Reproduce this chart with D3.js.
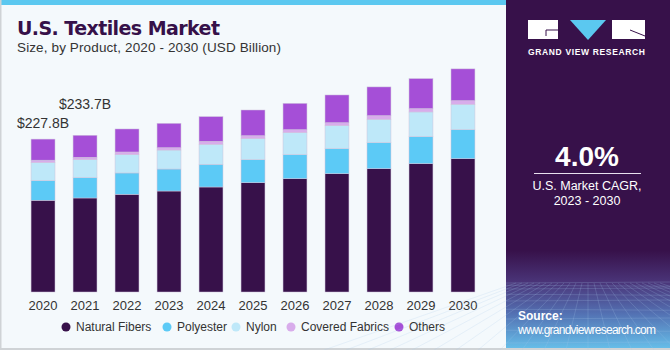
<!DOCTYPE html>
<html>
<head>
<meta charset="utf-8">
<script src="https://cdn.jsdelivr.net/npm/d3@7"></script>
<style>
  body { margin: 0; background: #f4f9fc; }
  svg { display: block; font-family: "Liberation Sans", Arial, sans-serif; }
</style>
</head>
<body>
<div id="chart"></div>
<script>
// data (USD billion)
const years = ["2020", "2021", "2022", "2023", "2024", "2025", "2026", "2027", "2028", "2029", "2030"];
const naturalFibers = [136.8, 140.2, 145.7, 150.6, 156.6, 163.0, 169.0, 176.4, 183.9, 191.4, 198.8];
const polyester = [29.3, 30.3, 31.8, 32.8, 33.8, 34.3, 35.8, 37.3, 38.8, 40.3, 43.3];
const nylon = [26.9, 26.8, 27.3, 28.3, 29.8, 31.3, 32.8, 34.3, 34.8, 36.8, 37.8];
const coveredFabrics = [3.6, 3.6, 4.0, 3.5, 4.5, 4.5, 4.5, 4.5, 5.5, 5.0, 5.5];
const others = [31.4, 32.8, 34.3, 36.3, 36.8, 38.3, 39.2, 41.3, 42.8, 44.7, 47.3];
const seriesNames = ["Natural Fibers", "Polyester", "Nylon", "Covered Fabrics", "Others"];
const seriesColors = ["#37114a", "#5ccaf6", "#bee8f9", "#d8aceb", "#a54fd7"];
const totalLabels = [{ year: "2020", text: "$227.8B", lift: 11 }, { year: "2021", text: "$233.7B", lift: 26 }];

const W = 670, H = 350;
const svg = d3.select("#chart").append("svg")
    .attr("width", W)
    .attr("height", H);

// background + frame
svg.append("rect").attr("width", W).attr("height", H).attr("fill", "#f4f9fc");
svg.append("rect").attr("x", 0).attr("y", 0).attr("width", W).attr("height", 5).attr("fill", "#5bc8f0");
svg.append("rect").attr("x", 0).attr("y", 0).attr("width", 1.5).attr("height", H).attr("fill", "#cfd3d6");
svg.append("rect").attr("x", 0).attr("y", H - 2).attr("width", W).attr("height", 2).attr("fill", "#cfd3d6");

// title
svg.append("text")
    .attr("x", 17).attr("y", 35)
    .attr("font-family", "'DejaVu Sans', sans-serif")
    .attr("font-weight", "bold")
    .attr("font-size", 19)
    .attr("textLength", 203)
    .attr("fill", "#361149")
    .text("U.S. Textiles Market");
svg.append("text")
    .attr("x", 17).attr("y", 52)
    .attr("font-size", 13.5)
    .attr("textLength", 264)
    .attr("fill", "#333")
    .text("Size, by Product, 2020 - 2030 (USD Billion)");

// build table for stack
const table = years.map((y, i) => ({
    year: y,
    "Natural Fibers": naturalFibers[i],
    "Polyester": polyester[i],
    "Nylon": nylon[i],
    "Covered Fabrics": coveredFabrics[i],
    "Others": others[i]
}));
const stacked = d3.stack().keys(seriesNames)(table);

const x = d3.scaleBand()
    .domain(years)
    .range([13, 493])
    .padding(0.43);

const y = d3.scaleLinear()
    .domain([0, 340])
    .range([292, 64]);

const color = d3.scaleOrdinal().domain(seriesNames).range(seriesColors);

svg.append("g")
    .selectAll("g")
    .data(stacked)
    .join("g")
    .attr("fill", d => color(d.key))
    .selectAll("rect")
    .data(d => d)
    .join("rect")
    .attr("x", d => x(d.data.year))
    .attr("y", d => y(d[1]))
    .attr("width", x.bandwidth())
    .attr("height", d => y(d[0]) - y(d[1]))
    .attr("stroke", "#cdc3dc")
    .attr("stroke-width", 0.5);

// x axis
const xAxis = svg.append("g")
    .attr("transform", "translate(0,292)")
    .call(d3.axisBottom(x).tickSize(0).tickPadding(9));
xAxis.select(".domain").remove();
xAxis.selectAll("text")
    .attr("font-family", "'Liberation Sans', Arial, sans-serif")
    .attr("font-size", 13)
    .attr("fill", "#333");

// total labels
const totals = years.map((yr, i) => naturalFibers[i] + polyester[i] + nylon[i] + coveredFabrics[i] + others[i]);
svg.selectAll(".total")
    .data(totalLabels)
    .join("text")
    .attr("class", "total")
    .attr("x", d => x(d.year) + x.bandwidth() / 2)
    .attr("y", d => y(totals[years.indexOf(d.year)]) - d.lift)
    .attr("text-anchor", "middle")
    .attr("font-size", 14)
    .attr("fill", "#333")
    .text(d => d.text);

// legend
const legendX = [66, 167, 236, 291, 399];
const legend = svg.append("g").selectAll("g")
    .data(seriesNames)
    .join("g")
    .attr("transform", (d, i) => "translate(" + legendX[i] + ",327)");
legend.append("circle").attr("r", 4.5).attr("fill", d => color(d));
legend.append("text")
    .attr("x", 10).attr("y", 4.3)
    .attr("font-size", 12)
    .attr("fill", "#333")
    .text(d => d);

// right panel
const panel = svg.append("g").attr("transform", "translate(506,0)");
const defs = svg.append("defs");
const grad = defs.append("linearGradient").attr("id", "panelGrad")
    .attr("x1", 0).attr("y1", 0).attr("x2", 0).attr("y2", 1);
grad.append("stop").attr("offset", "0%").attr("stop-color", "#37114a");
grad.append("stop").attr("offset", "72%").attr("stop-color", "#37114a");
grad.append("stop").attr("offset", "81%").attr("stop-color", "#4a3478");
grad.append("stop").attr("offset", "90%").attr("stop-color", "#5370b2");
grad.append("stop").attr("offset", "100%").attr("stop-color", "#66bde8");
panel.append("rect").attr("width", 164).attr("height", H - 2).attr("fill", "url(#panelGrad)");

// perspective grid at the bottom of the panel
const gridG = panel.append("g").attr("stroke", "#a9c8ea").attr("stroke-opacity", 0.35).attr("stroke-width", 0.6);
d3.range(0, 10).forEach(k => {
    const yy = 283 + k * k * 0.75 + k * 1.5;
    gridG.append("line").attr("x1", 0).attr("x2", 164).attr("y1", yy).attr("y2", yy + (k % 2 ? 1 : -1));
});
d3.range(-12, 13).forEach(k => {
    gridG.append("line").attr("x1", 82 + k * 6).attr("y1", 283).attr("x2", 82 + k * 22).attr("y2", 350);
});

// logo
const logo = panel.append("g");
logo.append("rect").attr("x", 22).attr("y", 20).attr("width", 30).attr("height", 19).attr("fill", "#fff");
logo.append("path").attr("d", "M40,30 H52 M40,30 V36").attr("stroke", "#37114a").attr("stroke-width", 1).attr("fill", "none");
logo.append("path").attr("d", "M64,20 L100,20 L82,40 Z").attr("fill", "#5bc8f0");
logo.append("rect").attr("x", 106).attr("y", 20).attr("width", 33).attr("height", 19).attr("fill", "#fff");
logo.append("path").attr("d", "M124,30 L139,36").attr("stroke", "#37114a").attr("stroke-width", 1);
logo.append("text")
    .attr("x", 80.5).attr("y", 54.5)
    .attr("text-anchor", "middle")
    .attr("font-weight", "bold")
    .attr("font-size", 8.5)
    .attr("textLength", 117)
    .attr("fill", "#fff")
    .text("GRAND VIEW RESEARCH");

panel.append("text")
    .attr("x", 81).attr("y", 166)
    .attr("text-anchor", "middle")
    .attr("font-weight", "bold")
    .attr("font-size", 28)
    .attr("fill", "#fff")
    .text("4.0%");
panel.append("line")
    .attr("x1", 28).attr("x2", 135).attr("y1", 173.5).attr("y2", 173.5)
    .attr("stroke", "#e8e0ee").attr("stroke-width", 1.2);
panel.append("text")
    .attr("x", 81).attr("y", 190)
    .attr("text-anchor", "middle")
    .attr("font-size", 12.5)
    .attr("fill", "#fff")
    .text("U.S. Market CAGR,");
panel.append("text")
    .attr("x", 81).attr("y", 205)
    .attr("text-anchor", "middle")
    .attr("font-size", 12.5)
    .attr("fill", "#fff")
    .text("2023 - 2030");

panel.append("text")
    .attr("x", 12).attr("y", 320)
    .attr("font-weight", "bold")
    .attr("font-size", 12)
    .attr("fill", "#fff")
    .text("Source:");
panel.append("text")
    .attr("x", 12).attr("y", 334)
    .attr("font-size", 12)
    .attr("textLength", 138)
    .attr("fill", "#fff")
    .text("www.grandviewresearch.com");
</script>
</body>
</html>
